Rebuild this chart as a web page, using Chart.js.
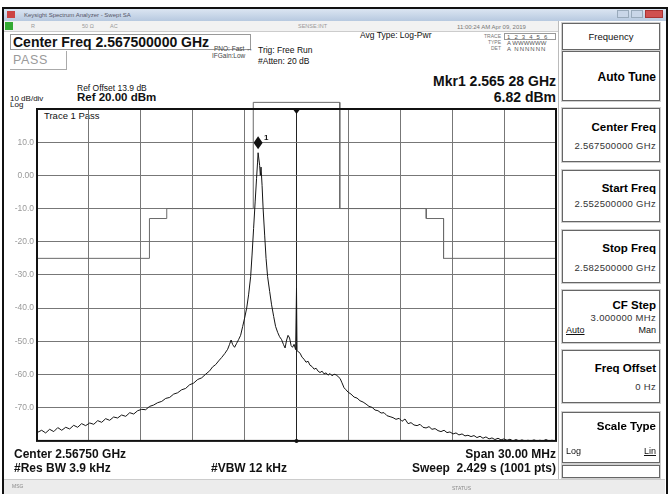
<!DOCTYPE html>
<html>
<head>
<meta charset="utf-8">
<script src="https://cdn.jsdelivr.net/npm/chart.js@4.4.1/dist/chart.umd.min.js"></script>
<style>
  body { margin:0; width:670px; height:494px; background:#fff; position:relative; overflow:hidden;
         font-family:"Liberation Sans", Arial, sans-serif; }
  .t { position:absolute; white-space:nowrap; line-height:1; color:#111; }
  .b { font-weight:bold; }
  .r { text-align:right; }
  .box { position:absolute; box-sizing:border-box; }
  .key { position:absolute; left:562px; width:98px; box-sizing:border-box; border:1px solid #666;
         box-shadow:0 0 0 1px #d0d0d0; background:#fff; }
  .key .k1 { position:absolute; right:3px; font-weight:bold; font-size:11.5px; line-height:1; white-space:nowrap; }
  .key .k2 { position:absolute; right:3px; font-size:9.5px; letter-spacing:0.3px; line-height:1; color:#333; white-space:nowrap; }
  #wrap { position:absolute; left:0; top:99px; width:560px; height:350px; }
</style>
</head>
<body>
<!-- window frame -->
<div class="box" style="left:2px;top:7px;width:666px;height:490px;border:2px solid #111;border-bottom:none;"></div>
<div class="box" style="left:4px;top:9px;width:662px;height:12px;background:linear-gradient(#dbe5f2,#b7c9e0);"></div>
<div class="box" style="left:7px;top:11px;width:8px;height:7px;background:#c44;"></div>
<div class="t" style="left:24px;top:12px;font-size:6px;color:#556;">Keysight Spectrum Analyzer - Swept SA</div>
<div class="box" style="left:617px;top:10px;width:12px;height:8px;background:#c9d6e8;border:1px solid #9ab;"></div>
<div class="box" style="left:631px;top:10px;width:12px;height:8px;background:#c9d6e8;border:1px solid #9ab;"></div>
<div class="box" style="left:645px;top:10px;width:18px;height:8px;background:#d05050;border:1px solid #a33;"></div>
<div class="box" style="left:4px;top:21px;width:554px;height:11px;background:#f2f2f2;border-bottom:1px solid #ccc;"></div>
<div class="box" style="left:5px;top:22px;width:8px;height:8px;background:#3a3;"></div>
<div class="t" style="left:31px;top:24px;font-size:5.5px;color:#999;">R</div>
<div class="t" style="left:82px;top:24px;font-size:5.5px;color:#999;">50 &Omega;</div>
<div class="t" style="left:110px;top:24px;font-size:5.5px;color:#999;">AC</div>
<div class="t" style="left:298px;top:24px;font-size:5.5px;color:#999;">SENSE:INT</div>
<div class="t" style="left:457px;top:24px;font-size:6px;color:#777;">11:00:24 AM Apr 09, 2019</div>

<!-- header -->
<div class="box" style="left:10px;top:34px;width:241px;height:16px;border:1px solid #999;"></div>
<div class="t b" style="left:13px;top:35px;font-size:14px;">Center Freq 2.567500000 GHz</div>
<div class="box" style="left:10px;top:51px;width:57px;height:19px;border-right:1px solid #aaa;border-bottom:1px solid #aaa;"></div>
<div class="t" style="left:13px;top:54px;font-size:12.5px;color:#9a9a9a;letter-spacing:0.6px;">PASS</div>
<div class="t" style="left:214px;top:46px;font-size:6.5px;color:#444;">PNO: Fast &#8596;</div>
<div class="t" style="left:212px;top:53px;font-size:6.5px;color:#444;">IFGain:Low</div>
<div class="t" style="left:258px;top:46px;font-size:8.5px;">Trig: Free Run</div>
<div class="t" style="left:258px;top:57px;font-size:8.5px;">#Atten: 20 dB</div>
<div class="t" style="left:360px;top:31px;font-size:8.5px;">Avg Type: Log-Pwr</div>
<div class="t r" style="right:169px;top:34px;font-size:5px;color:#777;">TRACE</div>
<div class="t r" style="right:169px;top:40px;font-size:5px;color:#777;">TYPE</div>
<div class="t r" style="right:169px;top:46px;font-size:5px;color:#777;">DET</div>
<div class="box" style="left:504px;top:33px;width:52px;height:7px;border:1px solid #999;"></div>
<div class="t" style="left:507px;top:34px;font-size:6px;color:#555;letter-spacing:1.2px;">1 2 3 4 5 6</div>
<div class="t" style="left:507px;top:40px;font-size:6px;color:#555;">A WWWWWW</div>
<div class="t" style="left:507px;top:46px;font-size:6px;color:#555;letter-spacing:1px;">A NNNNNN</div>
<div class="t b r" style="right:114px;top:74px;font-size:14px;">Mkr1 2.565 28 GHz</div>
<div class="t b r" style="right:114px;top:90px;font-size:14px;">6.82 dBm</div>
<div class="t" style="left:77px;top:84px;font-size:8.5px;">Ref Offset 13.9 dB</div>
<div class="t" style="left:10px;top:95px;font-size:8px;">10 dB/div</div>
<div class="t b" style="left:77px;top:92px;font-size:11.5px;">Ref 20.00 dBm</div>
<div class="t" style="left:10px;top:101px;font-size:8px;">Log</div>
<div class="t" style="left:44px;top:111px;font-size:9.5px;">Trace 1 Pass</div>

<div id="wrap"><canvas id="spec"></canvas></div>

<!-- footer -->
<div class="t b" style="left:14px;top:448px;font-size:12px;">Center 2.56750 GHz</div>
<div class="t b" style="left:14px;top:462px;font-size:12px;">#Res BW 3.9 kHz</div>
<div class="t b" style="left:211px;top:462px;font-size:12px;">#VBW 12 kHz</div>
<div class="t b r" style="right:114px;top:448px;font-size:12px;">Span 30.00 MHz</div>
<div class="t b r" style="right:114px;top:462px;font-size:12px;">Sweep &nbsp;2.429 s (1001 pts)</div>
<div class="box" style="left:4px;top:479px;width:661px;height:15px;background:#ececec;border-top:1px solid #ccc;"></div>
<div class="t" style="left:12px;top:484px;font-size:5px;color:#888;">MSG</div>
<div class="t" style="left:452px;top:486px;font-size:5px;color:#888;">STATUS</div>

<!-- softkeys -->
<div class="box" style="left:558px;top:21px;width:1px;height:458px;background:#bbb;"></div>
<div class="key" style="top:23px;height:27px;"><div class="t" style="left:0;width:96px;text-align:center;top:8px;font-size:9.5px;">Frequency</div></div>
<div class="key" style="top:51px;height:50px;"><div class="k1" style="top:19px;font-size:12px;">Auto Tune</div></div>
<div class="key" style="top:108px;height:54px;"><div class="k1" style="top:13px;">Center Freq</div><div class="k2" style="top:32px;">2.567500000 GHz</div></div>
<div class="key" style="top:170px;height:52px;"><div class="k1" style="top:12px;">Start Freq</div><div class="k2" style="top:28px;">2.552500000 GHz</div></div>
<div class="key" style="top:230px;height:53px;"><div class="k1" style="top:12px;">Stop Freq</div><div class="k2" style="top:32px;">2.582500000 GHz</div></div>
<div class="key" style="top:290px;height:53px;"><div class="k1" style="top:9px;">CF Step</div><div class="k2" style="top:22px;">3.000000 MHz</div>
  <div class="t" style="left:3px;top:35px;font-size:9px;text-decoration:underline;">Auto</div><div class="t" style="right:3px;top:35px;font-size:9px;">Man</div></div>
<div class="key" style="top:350px;height:53px;"><div class="k1" style="top:12px;">Freq Offset</div><div class="k2" style="top:31px;">0 Hz</div></div>
<div class="key" style="top:412px;height:51px;"><div class="k1" style="top:8px;">Scale Type</div>
  <div class="t" style="left:3px;top:34px;font-size:9px;">Log</div><div class="t" style="right:3px;top:34px;font-size:9px;text-decoration:underline;">Lin</div></div>
<div class="key" style="top:465px;height:13px;"></div>

<script>
const startFreq = 2.5525;
const stopFreq = 2.5825;
const centerFreq = 2.5675;
const gridFreqs = [2.5525, 2.5555, 2.5585, 2.5615, 2.5645, 2.5675, 2.5705, 2.5735, 2.5765, 2.5795, 2.5825];
const levelTicks = [-80, -70, -60, -50, -40, -30, -20, -10, 0, 10, 20];
const levelLabels = ['', '-70.0', '-60.0', '-50.0', '-40.0', '-30.0', '-20.0', '-10.0', '0.00', '10.0', ''];

// trace 1 (GHz / dBm)
const traceFreq = [
  2.55250, 2.55277, 2.55300, 2.55323, 2.55347, 2.55370, 2.55393, 2.55416, 2.55439, 2.55462,
  2.55485, 2.55508, 2.55531, 2.55555, 2.55578, 2.55601, 2.55624, 2.55647, 2.55670, 2.55693,
  2.55716, 2.55739, 2.55763, 2.55786, 2.55809, 2.55832, 2.55855, 2.55878, 2.55901, 2.55924,
  2.55947, 2.55971, 2.55994, 2.56017, 2.56040, 2.56063, 2.56086, 2.56109, 2.56132, 2.56155,
  2.56179, 2.56202, 2.56225, 2.56248, 2.56265, 2.56283, 2.56300, 2.56317, 2.56335, 2.56352,
  2.56363, 2.56372, 2.56381, 2.56392, 2.56404, 2.56415, 2.56427, 2.56439, 2.56450, 2.56462,
  2.56473, 2.56485, 2.56493, 2.56502, 2.56511, 2.56519, 2.56525, 2.56528, 2.56537, 2.56541,
  2.56545, 2.56551, 2.56557, 2.56566, 2.56574, 2.56583, 2.56595, 2.56606, 2.56618, 2.56629,
  2.56641, 2.56652, 2.56664, 2.56675, 2.56684, 2.56693, 2.56701, 2.56710, 2.56719, 2.56727,
  2.56736, 2.56745, 2.56750, 2.56753, 2.56771, 2.56782, 2.56794, 2.56805, 2.56817, 2.56828,
  2.56840, 2.56852, 2.56863, 2.56875, 2.56886, 2.56898, 2.56909, 2.56921, 2.56932, 2.56944,
  2.56956, 2.56967, 2.56979, 2.56990, 2.57002, 2.57013, 2.57025, 2.57036, 2.57048, 2.57065,
  2.57083, 2.57100, 2.57117, 2.57135, 2.57152, 2.57169, 2.57187, 2.57204, 2.57221, 2.57239,
  2.57256, 2.57273, 2.57291, 2.57308, 2.57325, 2.57343, 2.57360, 2.57377, 2.57395, 2.57412,
  2.57429, 2.57447, 2.57464, 2.57481, 2.57499, 2.57516, 2.57533, 2.57551, 2.57568, 2.57585,
  2.57603, 2.57620, 2.57637, 2.57655, 2.57672, 2.57689, 2.57707, 2.57724, 2.57741, 2.57759,
  2.57776, 2.57793, 2.57811, 2.57828, 2.57845, 2.57863, 2.57880, 2.57897, 2.57915, 2.57932,
  2.57949, 2.57967, 2.57984, 2.58001, 2.58019, 2.58036, 2.58053, 2.58071, 2.58088, 2.58105,
  2.58123, 2.58140, 2.58157, 2.58175, 2.58192, 2.58209, 2.58227, 2.58244, 2.58250
];
const traceLevel = [
  -77.5, -76.8, -77.6, -76.5, -77.2, -76.0, -76.8, -75.9, -76.4, -75.3,
  -75.9, -74.8, -75.4, -74.6, -75.0, -73.9, -74.4, -73.3, -73.8, -72.8,
  -73.1, -72.2, -72.6, -71.5, -71.9, -70.9, -70.5, -70.6, -69.6, -69.2,
  -68.5, -68.1, -67.2, -66.9, -65.9, -65.5, -64.6, -64.2, -63.1, -62.6,
  -61.5, -61.0, -59.9, -58.9, -57.7, -57.0, -55.9, -54.9, -53.7, -52.4,
  -50.9, -49.6, -51.0, -51.8, -50.6, -49.5, -48.2, -45.5, -43.0, -40.0,
  -36.0, -30.5, -24.0, -16.0, -8.0, -1.0, 4.0, 6.82, 3.0, 0.0,
  2.5, -3.0, -10.0, -18.0, -25.0, -30.5, -35.0, -39.0, -42.5, -45.5,
  -47.3, -48.6, -49.5, -51.0, -52.0, -49.6, -48.2, -49.0, -51.3, -51.8,
  -50.9, -52.5, -34.0, -52.8, -53.6, -54.8, -55.4, -56.3, -56.0, -57.2,
  -57.6, -58.4, -58.1, -59.0, -59.4, -59.0, -59.8, -59.5, -60.2, -59.7,
  -60.4, -59.9, -60.1, -60.6, -61.2, -62.5, -64.0, -64.6, -65.3, -65.9,
  -66.8, -67.1, -67.9, -68.3, -68.9, -69.6, -69.9, -70.7, -70.9, -71.6,
  -71.5, -72.4, -72.7, -73.0, -73.5, -73.2, -74.1, -73.4, -74.8, -74.5,
  -75.2, -75.4, -75.0, -75.9, -76.1, -75.7, -76.5, -76.3, -76.9, -77.2,
  -76.8, -77.5, -77.3, -77.9, -77.6, -78.2, -77.9, -78.5, -78.3, -78.7,
  -78.4, -79.0, -78.6, -79.2, -78.8, -79.4, -79.1, -79.6, -79.2, -79.7,
  -79.4, -79.8, -79.5, -80.0, -79.6, -80.0, -79.7, -80.0, -79.8, -80.0,
  -79.7, -80.0, -79.8, -80.0, -79.6, -80.0, -79.8, -80.0, -79.8
];

// limit mask
const maskFreq = [2.5525, 2.5590, 2.5590, 2.5600, 2.5600, 2.5650, 2.5650, 2.5700, 2.5700, 2.5750, 2.5750, 2.5760, 2.5760, 2.5825];
const maskLevel = [-25, -25, -13, -13, -10, -10, 22, 22, -10, -10, -13, -13, -25, -25];

// marker 1
const mkrFreq = 2.56528;
const mkrLevel = 6.82;

const analyzerMarks = {
  id: 'analyzerMarks',
  afterDatasetsDraw(chart) {
    const { ctx, chartArea: a, scales: { x, y } } = chart;
    ctx.save();
    // frame
    ctx.strokeStyle = '#111';
    ctx.lineWidth = 2;
    ctx.strokeRect(a.left, a.top, a.right - a.left, a.bottom - a.top);
    // center freq indicators
    const cx = x.getPixelForValue(centerFreq);
    ctx.fillStyle = '#111';
    ctx.beginPath();
    ctx.moveTo(cx - 3, a.top + 1);
    ctx.lineTo(cx + 3, a.top + 1);
    ctx.lineTo(cx, a.top + 5);
    ctx.closePath();
    ctx.fill();
    ctx.beginPath();
    ctx.arc(cx, a.bottom, 2, 0, Math.PI * 2);
    ctx.fill();
    // marker diamond sitting on the peak
    const mx = x.getPixelForValue(mkrFreq);
    const my = y.getPixelForValue(mkrLevel) - 10;
    ctx.beginPath();
    ctx.moveTo(mx, my - 6.5);
    ctx.lineTo(mx + 4.5, my);
    ctx.lineTo(mx, my + 6.5);
    ctx.lineTo(mx - 4.5, my);
    ctx.closePath();
    ctx.fill();
    ctx.font = 'bold 8px "Liberation Sans"';
    ctx.fillText('1', mx + 6, my - 3);
    ctx.restore();
  }
};

new Chart(document.getElementById('spec'), {
  type: 'line',
  data: {
    datasets: [
      {
        label: 'Trace 1',
        data: traceFreq.map((f, i) => ({ x: f, y: traceLevel[i] })),
        borderColor: '#151515',
        borderWidth: 1,
        pointRadius: 0,
        tension: 0
      },
      {
        label: 'Limit',
        data: maskFreq.map((f, i) => ({ x: f, y: maskLevel[i] })),
        borderColor: '#6a6a6a',
        borderWidth: 1,
        pointRadius: 0,
        tension: 0,
        clip: false
      }
    ]
  },
  options: {
    responsive: true,
    maintainAspectRatio: false,
    animation: false,
    events: [],
    layout: { padding: { top: 10, right: 4, bottom: 6, left: 0 } },
    plugins: { legend: { display: false }, tooltip: { enabled: false } },
    scales: {
      x: {
        type: 'linear',
        min: startFreq,
        max: stopFreq,
        afterBuildTicks: s => { s.ticks = gridFreqs.map(v => ({ value: v })); },
        afterFit: s => { s.height = 0; },
        ticks: { display: false },
        border: { display: false },
        grid: {
          drawTicks: false,
          color: c => (c.tick && c.tick.value === centerFreq) ? '#222' : '#777',
          lineWidth: 1
        }
      },
      y: {
        min: -80,
        max: 20,
        afterBuildTicks: s => { s.ticks = levelTicks.map(v => ({ value: v })); },
        afterFit: s => { s.width = 37; },
        border: { display: false },
        grid: { drawTicks: false, color: '#777', lineWidth: 1 },
        ticks: {
          padding: 3,
          color: '#9a9a9a',
          font: { family: 'Liberation Sans', size: 8.5 },
          callback: v => levelLabels[levelTicks.indexOf(v)]
        }
      }
    }
  },
  plugins: [analyzerMarks]
});
</script>
</body>
</html>
